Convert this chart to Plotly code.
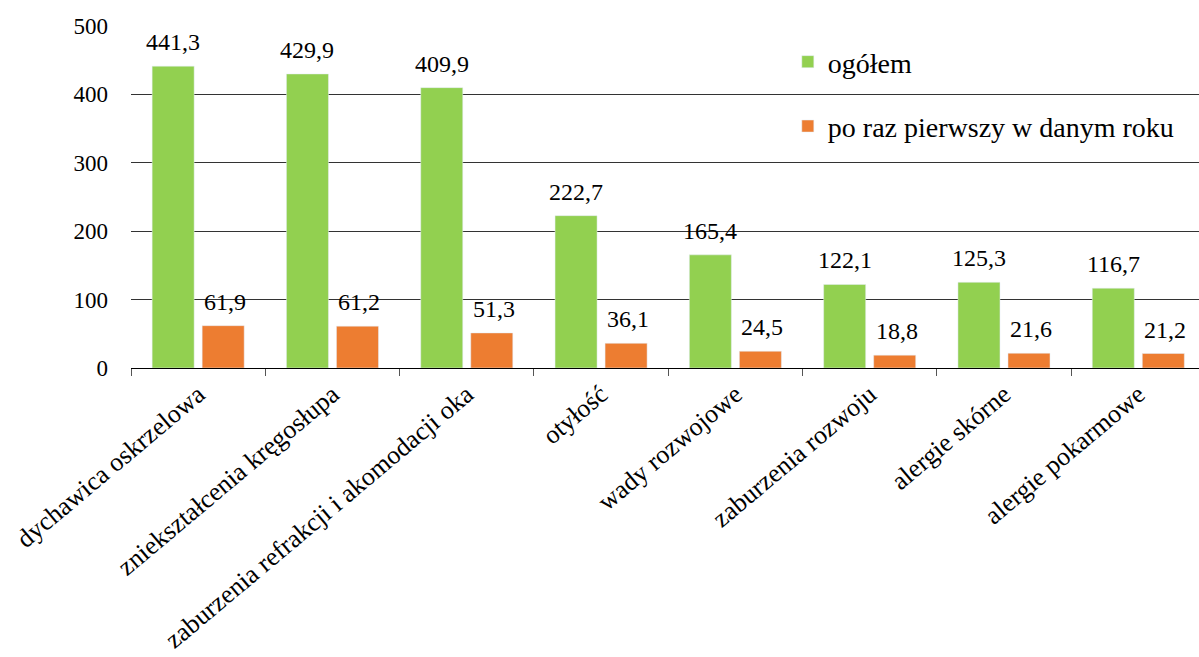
import plotly.graph_objects as go

categories = ["dychawica oskrzelowa", "zniekształcenia kręgosłupa",
              "zaburzenia refrakcji i akomodacji oka", "otyłość",
              "wady rozwojowe", "zaburzenia rozwoju", "alergie skórne",
              "alergie pokarmowe"]
ogolem = [441.3, 429.9, 409.9, 222.7, 165.4, 122.1, 125.3, 116.7]
pierwszy = [61.9, 61.2, 51.3, 36.1, 24.5, 18.8, 21.6, 21.2]
series_names = ["ogółem", "po raz pierwszy w danym roku"]
y_ticks = [0, 100, 200, 300, 400, 500]

FONT = "Liberation Serif"

def fmt(v):
    return f"{v:.1f}".replace(".", ",")

fig = go.Figure()
fig.add_trace(go.Bar(x=categories, y=ogolem, name=series_names[0],
                     marker_color="#92D050", legendgroup="a"))
fig.add_trace(go.Bar(x=categories, y=pierwszy, name=series_names[1],
                     marker_color="#ED7D31", legendgroup="b"))

# value labels above bars
for vals, xs in ((ogolem, -25), (pierwszy, 27)):
    for c, v in zip(categories, vals):
        fig.add_annotation(x=c, y=v, text=fmt(v), showarrow=False,
                           xshift=xs, yshift=9, yanchor="bottom",
                           font=dict(family=FONT, size=24, color="black"))

fig.update_layout(
    width=1199, height=657,
    margin=dict(l=131, r=0, t=26, b=289, autoexpand=False),
    paper_bgcolor="white", plot_bgcolor="white",
    font=dict(family=FONT, size=22, color="black"),
    barmode="group", bargap=0.255, bargroupgap=0.16,
    legend=dict(x=0.615, y=0.968, xanchor="left", yanchor="top",
                bgcolor="rgba(0,0,0,0)", tracegroupgap=25,
                font=dict(family=FONT, size=28, color="black")),
    xaxis=dict(range=[-0.5, 7.452], showline=True, linecolor="black",
               linewidth=1, ticks="outside", ticklen=7, tickcolor="#555555",
               tickson="boundaries", tickangle=-40, showgrid=False,
               automargin=False,
               tickfont=dict(family=FONT, size=26, color="black")),
    yaxis=dict(range=[0, 500], tickvals=y_ticks, showgrid=True,
               gridcolor="#333333", gridwidth=1, zeroline=False,
               showline=False, ticks="", ticklabelstandoff=22,
               automargin=False,
               tickfont=dict(family=FONT, size=23, color="black")),
)

fig.write_html("out.html", config={"displayModeBar": False},
               post_script="document.body.style.margin='0';document.body.style.padding='0';")
